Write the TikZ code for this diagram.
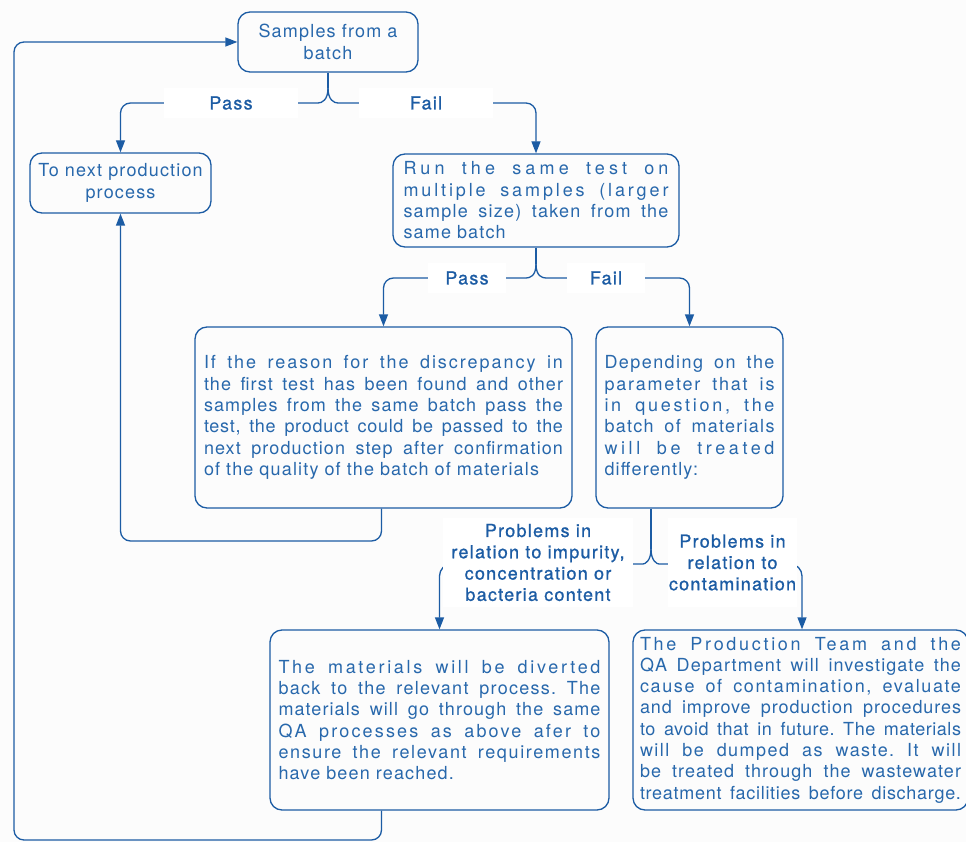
\documentclass[tikz,border=0pt]{standalone}
\usepackage{fontspec}
\setmainfont{TeX Gyre Heros}[LetterSpace=6.5]
\newfontfamily\labfont{TeX Gyre Heros}[LetterSpace=7,FakeBold=0.9]
\usetikzlibrary{arrows.meta}
\definecolor{lineblue}{RGB}{28,92,164}
\definecolor{textblue}{RGB}{40,104,172}
\definecolor{bgwhite}{RGB}{252,252,252}
\frenchspacing
\newcommand{\jl}[2][6]{\leavevmode\hbox to \linewidth{\addfontfeature{LetterSpace=#1}\spaceskip=0.3em plus 1fil minus 0.1em\relax #2}}
\tikzset{
  box/.style={draw=lineblue, line width=1.3pt, rounded corners=12pt, text=textblue,
    font=\fontsize{18}{21.3}\selectfont\frenchspacing, inner sep=0pt},
  lab/.style={fill=white, text=lineblue, font=\labfont\fontsize{18}{21.3}\selectfont,
    inner sep=0pt, align=center},
  conn/.style={draw=lineblue, line width=1.3pt},
  arr/.style={conn, -{Triangle[length=12pt,width=9pt]}}
}
\begin{document}
\begin{tikzpicture}[x=1pt,y=-1pt]
\path[use as bounding box, fill=bgwhite] (0,0) rectangle (966,842);
% boxes
\node[box, minimum width=180pt, minimum height=60pt, align=center] (s1) at (328,42)
  {Samples from a\\batch};
\node[box, minimum width=181pt, minimum height=60pt, align=center] (s2) at (120.5,183)
  {To next production\\process};
\node[box, minimum width=286pt, minimum height=93pt, text width=265pt, align=left] (s3) at (536,200.5)
  {\jl[23]{Run the same test on}\\ \jl[16]{multiple samples (larger}\\ \jl[7]{sample size) taken from the}\\ same batch};
\node[box, minimum width=377pt, minimum height=181pt, text width=359pt, align=left] (s4) at (383.5,417.5)
  {\jl[11]{If the reason for the discrepancy in}\\ \jl[6]{the first test has been found and other}\\ \jl[6]{samples from the same batch pass the}\\ \jl[4]{test, the product could be passed to the}\\ \jl[6]{next production step after confirmation}\\ of the quality of the batch of materials};
\node[box, minimum width=187pt, minimum height=181pt, text width=170pt, align=left] (s5) at (689.5,417.5)
  {\jl[8]{Depending on the}\\ \jl[10]{parameter that is}\\ \jl[15]{in question, the}\\ \jl[7]{batch of materials}\\ \jl[20]{will be treated}\\ differently:};
\node[box, minimum width=339pt, minimum height=180pt, text width=322pt, align=left] (s6) at (439.5,720)
  {\jl[15]{The materials will be diverted}\\ \jl[7]{back to the relevant process. The}\\ \jl[6]{materials will go through the same}\\ \jl[12]{QA processes as above afer to}\\ \jl[9]{ensure the relevant requirements}\\ have been reached.};
\node[box, minimum width=335pt, minimum height=180pt, text width=321pt, align=left] (s7) at (800.5,720)
  {\jl[15]{The Production Team and the}\\ \jl[6]{QA Department will investigate the}\\ \jl[9]{cause of contamination, evaluate}\\ \jl[5]{and improve production procedures}\\ \jl[3]{to avoid that in future. The materials}\\ \jl[8]{will be dumped as waste. It will}\\ \jl[6]{be treated through the wastewater}\\ \jl[4]{treatment facilities before discharge.}};
% helper coordinates
\coordinate (loopx) at (381.5,0);
\coordinate (bl) at (14,840);
\coordinate (r2) at (0,541);
\coordinate (c5) at (651,0);
\coordinate (ax7) at (802,0);
\coordinate (b1) at (328,88);
\coordinate (b2) at (536,264);
\coordinate (b3) at (651,549);
% connectors
\draw[conn] (s1.south) -- (b1);
\draw[arr, rounded corners=10pt] (b1) .. controls (328,100) and (322,103) .. (308,103) -| (s2.north);
\draw[arr, rounded corners=10pt] (b1) .. controls (328,100) and (334,103) .. (348,103) -| (s3.north);
\draw[conn] (s3.south) -- (b2);
\draw[arr, rounded corners=10pt] (b2) .. controls (536,276) and (530,278) .. (516,278) -| (s4.north);
\draw[arr, rounded corners=10pt] (b2) .. controls (536,276) and (542,278) .. (556,278) -| (s5.north);
\draw[conn] (s5.south -| c5) -- (b3);
\draw[arr, rounded corners=12pt] (b3) .. controls (651,561) and (645,564) .. (631,564) -| (s6.north);
\draw[arr, rounded corners=12pt] (b3) .. controls (651,561) and (657,564) .. (671,564) -| (s7.north -| ax7);
\draw[arr, rounded corners=10pt] (s4.south -| loopx) |- (r2 -| s2.south) -- (s2.south);
\draw[arr, rounded corners=10pt] (s6.south -| loopx) |- (bl) |- (s1.west);
% labels
\node[lab, minimum width=134pt, minimum height=30pt] (lp1) at (231,103) {Pass};
\node[lab, minimum width=134pt, minimum height=30pt] (lf1) at (426,103) {Fail};
\node[lab, minimum width=78pt, minimum height=30pt] (lp2) at (467,278) {Pass};
\node[lab, minimum width=78pt, minimum height=30pt] (lf2) at (606,278) {Fail};
\node[lab, minimum width=190pt, minimum height=89pt] (lq1) at (538,562.5)
  {Problems in\\relation to impurity,\\concentration or\\bacteria content};
\node[lab, minimum width=129pt, minimum height=89pt] (lq2) at (732.5,562.5)
  {Problems in\\relation to\\contamination};
\end{tikzpicture}
\end{document}
